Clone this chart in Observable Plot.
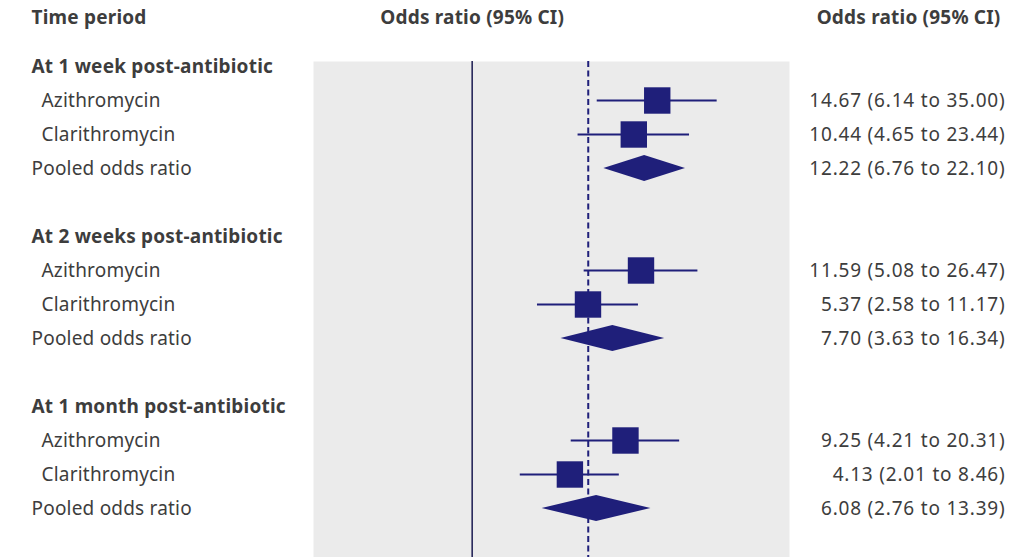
<!DOCTYPE html>
<html>
<head>
<meta charset="utf-8">
<script src="https://cdn.jsdelivr.net/npm/d3@7"></script>
<script src="https://cdn.jsdelivr.net/npm/@observablehq/plot@0.6"></script>
<style>
  html, body { margin: 0; padding: 0; background: #ffffff; }
  #chart svg { display: block; }
  .est text { letter-spacing: 0.8px; }
  .lbl text { letter-spacing: 0.2px; }
</style>
</head>
<body>
<div id="chart"></div>
<script>
// ---- Data ----
const groupLabels = ["At 1 week post-antibiotic", "At 2 weeks post-antibiotic", "At 1 month post-antibiotic"];
const drugLabels = ["Azithromycin", "Clarithromycin"];
const pooledLabel = "Pooled odds ratio";

// individual study estimates, per group: [Azithromycin, Clarithromycin]
const studyOR = [[14.67, 10.44], [11.59, 5.37], [9.25, 4.13]];
const studyLo = [[6.14, 4.65], [5.08, 2.58], [4.21, 2.01]];
const studyHi = [[35.00, 23.44], [26.47, 11.17], [20.31, 8.46]];

// pooled estimates per group
const pooledOR = [12.22, 7.70, 6.08];
const pooledLo = [6.76, 3.63, 2.76];
const pooledHi = [22.10, 16.34, 13.39];

const headerLeft = "Time period";
const headerMid = "Odds ratio (95% CI)";
const headerRight = "Odds ratio (95% CI)";
const nullValue = 1;       // line of no effect
const dashedValue = 5.39;  // dashed reference line

// ---- Build tables ----
const fmt = v => v.toFixed(2);
const labelRows = [];
const studies = [];
const pooled = [];
const diamond = [];
groupLabels.forEach((g, gi) => {
  const base = gi * 5;
  labelRows.push({row: base, text: g, kind: "group"});
  drugLabels.forEach((d, di) => {
    const row = base + 1 + di;
    labelRows.push({row, text: d, kind: "drug"});
    studies.push({row, or: studyOR[gi][di], lo: studyLo[gi][di], hi: studyHi[gi][di]});
  });
  const prow = base + 3;
  labelRows.push({row: prow, text: pooledLabel, kind: "pooled"});
  pooled.push({row: prow, or: pooledOR[gi], lo: pooledLo[gi], hi: pooledHi[gi]});
  const h = 0.38;
  diamond.push({g: gi, x: pooledLo[gi], y1: prow, y2: prow});
  diamond.push({g: gi, x: pooledOR[gi], y1: prow - h, y2: prow + h});
  diamond.push({g: gi, x: pooledHi[gi], y1: prow, y2: prow});
});
const allEst = studies.concat(pooled).map(d => ({row: d.row, text: `${fmt(d.or)} (${fmt(d.lo)} to ${fmt(d.hi)})`}));

const navy = "#1f1f7a";
const textColor = "#3d3d3d";
const font = "'Noto Sans', 'Open Sans', sans-serif";

const chart = Plot.plot({
  width: 1023,
  height: 557,
  marginLeft: 313,
  marginRight: 234,
  marginTop: 61,
  marginBottom: 0,
  x: {type: "log", domain: [0.1, 100], axis: null},
  y: {domain: [0, 13], range: [66, 508], axis: null},
  style: {fontFamily: font, background: "#ffffff", color: textColor},
  marks: [
    Plot.frame({fill: "#ebebeb", stroke: "none"}),
    Plot.ruleX([nullValue], {stroke: "#1a1a50", strokeWidth: 1.5}),
    Plot.ruleX([dashedValue], {stroke: navy, strokeWidth: 2, strokeDasharray: "6,3.5"}),
    Plot.ruleY(studies, {y: "row", x1: "lo", x2: "hi", stroke: navy, strokeWidth: 2}),
    Plot.dot(studies, {x: "or", y: "row", symbol: "square", r: 14.9, fill: navy, stroke: "none"}),
    Plot.area(diamond, {x1: "x", y1: "y1", y2: "y2", z: "g", fill: navy, curve: "linear"}),
    // left labels
    Plot.text(labelRows.filter(d => d.kind === "group"), {y: "row", text: "text", frameAnchor: "left", textAnchor: "start", dx: -282, fontSize: 19, fontWeight: 700, fill: textColor, className: "lbl"}),
    Plot.text(labelRows.filter(d => d.kind === "drug"), {y: "row", text: "text", frameAnchor: "left", textAnchor: "start", dx: -272, fontSize: 19, fill: textColor, className: "lbl"}),
    Plot.text(labelRows.filter(d => d.kind === "pooled"), {y: "row", text: "text", frameAnchor: "left", textAnchor: "start", dx: -282, fontSize: 19, fill: textColor, className: "lbl"}),
    // right estimates
    Plot.text(allEst, {y: "row", text: "text", frameAnchor: "right", textAnchor: "end", dx: 216, fontSize: 19, fill: textColor, className: "est"}),
    // headers
    Plot.text([headerLeft], {text: d => d, frameAnchor: "top-left", lineAnchor: "middle", textAnchor: "start", dx: -282, dy: -44, fontSize: 19, fontWeight: 700, fill: textColor, className: "lbl"}),
    Plot.text([{x: nullValue, t: headerMid}], {x: "x", text: "t", frameAnchor: "top", lineAnchor: "middle", dy: -44, fontSize: 19, fontWeight: 700, fill: textColor, className: "lbl"}),
    Plot.text([headerRight], {text: d => d, frameAnchor: "top-right", lineAnchor: "middle", textAnchor: "end", dx: 211, dy: -44, fontSize: 19, fontWeight: 700, fill: textColor, className: "lbl"})
  ]
});
document.getElementById("chart").appendChild(chart);
</script>
</body>
</html>
